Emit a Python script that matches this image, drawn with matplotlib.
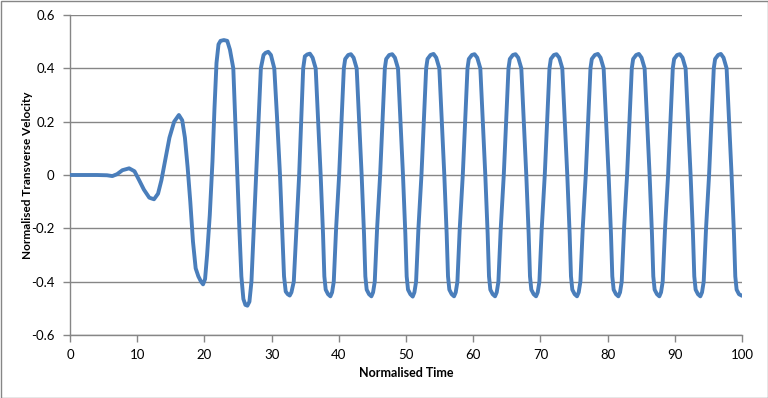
# -*- coding: utf-8 -*-
import numpy as np
import matplotlib as ml
ml.use('Agg')
from matplotlib import pyplot as plt
from matplotlib.patches import Rectangle

# values
time = [0.0, 2.0, 4.0, 5.5, 6.3, 7.0, 7.8, 8.8, 9.6, 10.3, 11.0, 11.8, 12.5, 13.1, 13.6, 14.2,
        14.8, 15.5, 16.2, 16.7, 17.1, 17.5, 17.9, 18.3, 18.7, 19.1, 19.5, 19.8, 20.1, 20.4,
        20.8, 21.2, 21.5, 21.8, 22.1, 22.4, 22.9, 23.4, 23.8, 24.3, 24.6, 24.9, 25.2, 25.5,
        25.8, 26.1, 26.4, 26.7, 27.0, 27.35, 27.7, 28.05, 28.4, 28.8, 29.1, 29.5, 29.9, 30.4,
        30.8, 31.25, 31.6, 31.85, 32.1, 32.4, 32.7, 32.95, 33.3, 33.7, 34.1, 34.4, 34.7,
        34.95, 35.3,
        35.7, 36.1, 36.56, 36.9, 37.3, 37.65, 37.85, 38.05, 38.4, 38.75, 39.0, 39.25, 39.6,
        40.05, 40.4, 40.75, 40.95, 41.4,
        41.8, 42.2, 42.66, 43.0, 43.4, 43.75, 43.95, 44.15, 44.5, 44.85, 45.1, 45.35, 45.7,
        46.15, 46.5, 46.85, 47.05, 47.5,
        47.95, 48.35, 48.81, 49.15, 49.55, 49.9, 50.1, 50.3, 50.65, 51.0, 51.25, 51.5, 51.85,
        52.3, 52.65, 53.0, 53.2, 53.65,
        54.1, 54.5, 54.96, 55.3, 55.7, 56.05, 56.25, 56.45, 56.8, 57.15, 57.4, 57.65, 58.0,
        58.45, 58.8, 59.15, 59.35, 59.8,
        60.2, 60.6, 61.06, 61.4, 61.8, 62.15, 62.35, 62.55, 62.9, 63.25, 63.5, 63.75, 64.1,
        64.55, 64.9, 65.25, 65.45, 65.9,
        66.3, 66.7, 67.16, 67.5, 67.9, 68.25, 68.45, 68.65, 69.0, 69.35, 69.6, 69.85, 70.2,
        70.65, 71.0, 71.35, 71.55, 72.0,
        72.4, 72.8, 73.26, 73.6, 74.0, 74.35, 74.55, 74.75, 75.1, 75.45, 75.7, 75.95, 76.3,
        76.75, 77.1, 77.45, 77.65, 78.1,
        78.55, 78.95, 79.41, 79.75, 80.15, 80.5, 80.7, 80.9, 81.25, 81.6, 81.85, 82.1, 82.45,
        82.9, 83.25, 83.6, 83.8, 84.25,
        84.65, 85.05, 85.51, 85.85, 86.25, 86.6, 86.8, 87.0, 87.35, 87.7, 87.95, 88.2, 88.55,
        89.0, 89.35, 89.7, 89.9, 90.35,
        90.75, 91.15, 91.61, 91.95, 92.35, 92.7, 92.9, 93.1, 93.45, 93.8, 94.05, 94.3, 94.65,
        95.1, 95.45, 95.8, 96.0, 96.45,
        96.85, 97.25, 97.71, 98.05, 98.45, 98.8, 99.0, 99.2, 99.55, 100.0]

velocity = [0.0, 0.0, 0.0, -0.001, -0.004, 0.003, 0.018, 0.025, 0.014, -0.02, -0.055, -0.085,
            -0.091, -0.07, -0.02, 0.06, 0.14, 0.2, 0.225, 0.205, 0.14, 0.03, -0.1, -0.25,
            -0.35, -0.38, -0.4, -0.41, -0.39, -0.3, -0.15, 0.05, 0.25, 0.42, 0.49, 0.503,
            0.506, 0.503, 0.47, 0.4, 0.2, 0.0, -0.2, -0.38, -0.465, -0.487, -0.49, -0.475,
            -0.4, -0.2, 0.0, 0.2, 0.4, 0.45, 0.458, 0.462, 0.45, 0.4, 0.22, 0.0, -0.22, -0.38,
            -0.437, -0.447, -0.452, -0.44, -0.4, -0.2, 0.0, 0.2, 0.4, 0.445, 0.452,
            0.455, 0.44, 0.40, 0.22, 0.0, -0.22, -0.38, -0.43, -0.447, -0.455, -0.44, -0.40,
            -0.2, 0.0, 0.2, 0.40, 0.435, 0.45,
            0.453, 0.44, 0.40, 0.22, 0.0, -0.22, -0.38, -0.43, -0.447, -0.455, -0.44, -0.40,
            -0.2, 0.0, 0.2, 0.40, 0.435, 0.45,
            0.453, 0.44, 0.40, 0.22, 0.0, -0.22, -0.38, -0.43, -0.447, -0.456, -0.44, -0.40,
            -0.2, 0.0, 0.2, 0.40, 0.435, 0.45,
            0.454, 0.44, 0.40, 0.22, 0.0, -0.22, -0.38, -0.43, -0.447, -0.455, -0.44, -0.40,
            -0.2, 0.0, 0.2, 0.40, 0.435, 0.45,
            0.453, 0.44, 0.40, 0.22, 0.0, -0.22, -0.38, -0.43, -0.447, -0.455, -0.44, -0.40,
            -0.2, 0.0, 0.2, 0.40, 0.435, 0.45,
            0.453, 0.44, 0.40, 0.22, 0.0, -0.22, -0.38, -0.43, -0.447, -0.455, -0.44, -0.40,
            -0.2, 0.0, 0.2, 0.40, 0.435, 0.45,
            0.453, 0.44, 0.40, 0.22, 0.0, -0.22, -0.38, -0.43, -0.447, -0.455, -0.44, -0.40,
            -0.2, 0.0, 0.2, 0.40, 0.435, 0.45,
            0.454, 0.44, 0.40, 0.22, 0.0, -0.22, -0.38, -0.43, -0.447, -0.455, -0.44, -0.40,
            -0.2, 0.0, 0.2, 0.40, 0.435, 0.45,
            0.454, 0.44, 0.40, 0.22, 0.0, -0.22, -0.38, -0.43, -0.447, -0.455, -0.44, -0.40,
            -0.2, 0.0, 0.2, 0.40, 0.435, 0.45,
            0.453, 0.44, 0.40, 0.22, 0.0, -0.22, -0.38, -0.43, -0.447, -0.455, -0.44, -0.40,
            -0.2, 0.0, 0.2, 0.40, 0.435, 0.45,
            0.454, 0.44, 0.40, 0.22, 0.0, -0.22, -0.38, -0.43, -0.447, -0.453]

x_ticks = [0, 10, 20, 30, 40, 50, 60, 70, 80, 90, 100]
y_ticks = [-0.6, -0.4, -0.2, 0, 0.2, 0.4, 0.6]
y_labels = ['-0.6', '-0.4', '-0.2', '0', '0.2', '0.4', '0.6']

plt.rcParams['font.family'] = ['Lato', 'DejaVu Sans']
grey = '#868686'

fig = plt.figure(figsize=(7.68, 3.98), dpi=100)
ax = fig.add_axes([70/768, 1-335/398, 672/768, 320/398])

ax.plot(time, velocity, color='#4A7EBB', lw=2.8, solid_joinstyle='round',
        solid_capstyle='round', zorder=3)

ax.set_xlim(0, 100)
ax.set_ylim(-0.6, 0.6)
ax.set_xticks(x_ticks)
ax.set_yticks(y_ticks)
ax.set_yticklabels(y_labels)
ax.grid(axis='y', color=grey, lw=1.0)
ax.set_axisbelow(True)

for s in ['top', 'right']:
    ax.spines[s].set_visible(False)
for s in ['left', 'bottom']:
    ax.spines[s].set_color(grey)
    ax.spines[s].set_linewidth(1.0)
ax.tick_params(direction='out', length=5, width=1, color=grey, labelsize=9.5,
               labelcolor='black')
ax.tick_params(axis='x', pad=5)
ax.tick_params(axis='y', pad=6)

ax.set_xlabel('Normalised Time', fontsize=9, fontweight='bold')
ax.xaxis.set_label_coords(0.5, -(367 - 335) / 320)
ax.set_ylabel('Normalised Transverse Velocity', fontsize=8.5, fontweight='bold')
ax.yaxis.set_label_coords(-(70 - 33) / 672, 0.5)

fig.patches.append(Rectangle((0.5/768, 0.5/398), 1-1/768, 1-1/398, transform=fig.transFigure,
                             fill=False, edgecolor=grey, lw=1.0))

plt.savefig('out.png', dpi=100)
